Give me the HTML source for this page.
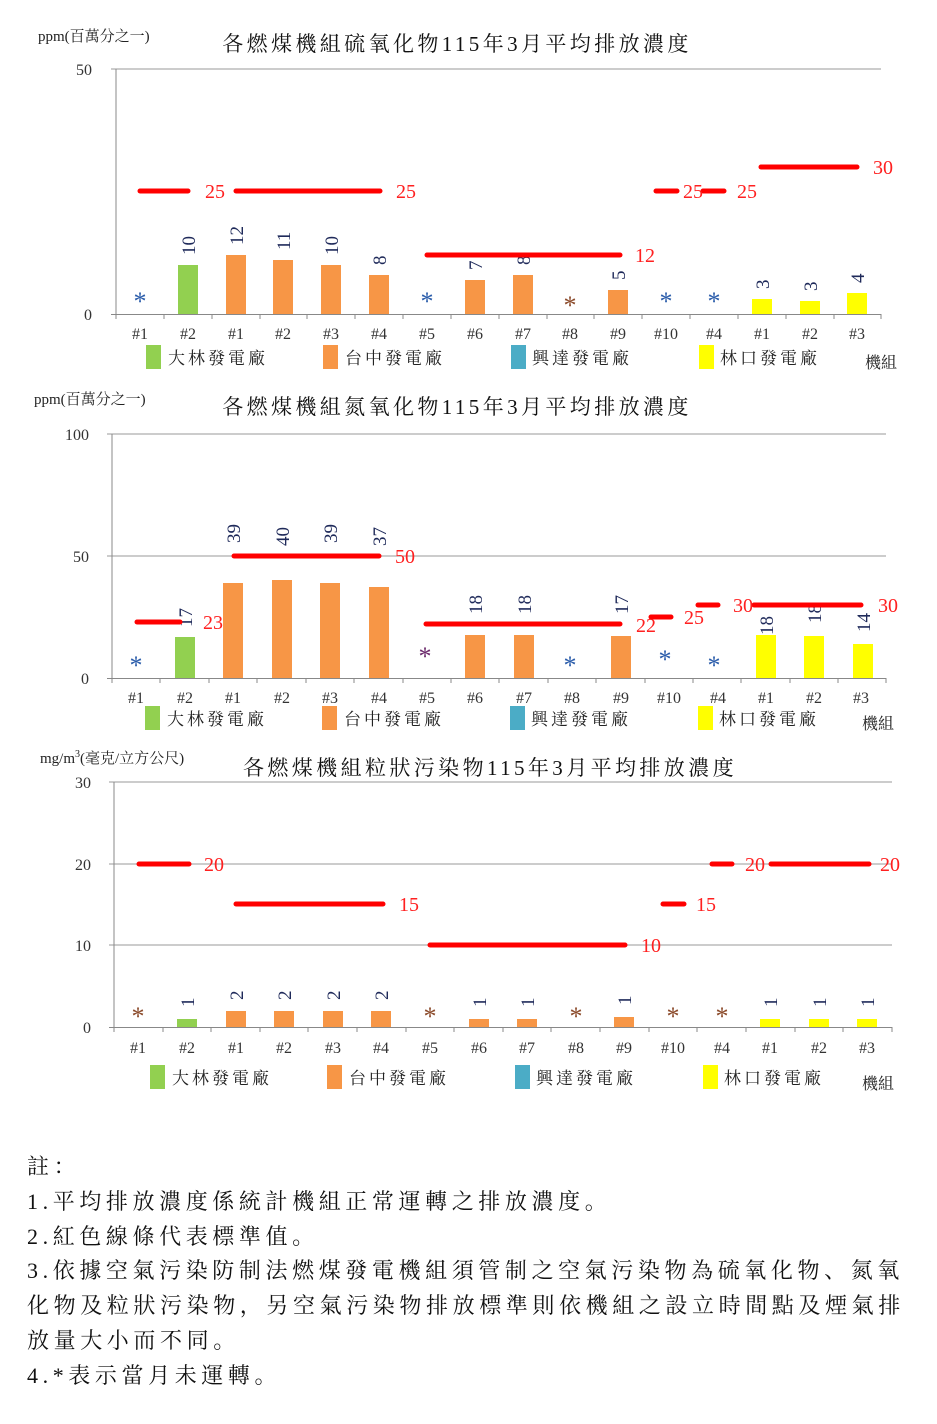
<!DOCTYPE html>
<html><head><meta charset="utf-8"><style>
body{margin:0;background:#fff;width:937px;height:1424px;overflow:hidden}
svg text{font-family:"Liberation Serif","Noto Serif CJK SC",serif}
.v{font-size:19px;fill:#1f2a5a}
.r{font-size:20px;fill:#ff2020}
.t{font-size:16px;fill:#333}
.l{font-size:17px;fill:#222;letter-spacing:3px}
.ti{letter-spacing:3.4px}
.notes{position:absolute;left:27px;top:1150px;font-family:"Liberation Serif","Noto Serif CJK SC",serif;font-size:22px;letter-spacing:4.6px;line-height:34.8px;color:#111;white-space:nowrap}
</style></head><body>
<svg width="937" height="1424" style="position:absolute;left:0;top:0">
<!-- CHART 1 -->
<text x="38" y="41" font-size="15" fill="#222">ppm(百萬分之一)</text>
<text class="ti" x="457" y="51" font-size="21" fill="#111" text-anchor="middle">各燃煤機組硫氧化物115年3月平均排放濃度</text>
<text x="92" y="75" font-size="16" fill="#333" text-anchor="end">50</text>
<text x="92" y="320" font-size="16" fill="#333" text-anchor="end">0</text>
<line x1="111" y1="69" x2="881" y2="69" stroke="#999"/>
<line x1="116" y1="69" x2="116" y2="319" stroke="#888"/>
<line x1="111" y1="314.5" x2="881" y2="314.5" stroke="#888"/>
<g stroke="#888"><line x1="164" y1="314" x2="164" y2="319"/><line x1="212" y1="314" x2="212" y2="319"/><line x1="260" y1="314" x2="260" y2="319"/><line x1="307" y1="314" x2="307" y2="319"/><line x1="355" y1="314" x2="355" y2="319"/><line x1="403" y1="314" x2="403" y2="319"/><line x1="451" y1="314" x2="451" y2="319"/><line x1="499" y1="314" x2="499" y2="319"/><line x1="547" y1="314" x2="547" y2="319"/><line x1="594" y1="314" x2="594" y2="319"/><line x1="642" y1="314" x2="642" y2="319"/><line x1="690" y1="314" x2="690" y2="319"/><line x1="738" y1="314" x2="738" y2="319"/><line x1="786" y1="314" x2="786" y2="319"/><line x1="834" y1="314" x2="834" y2="319"/><line x1="881" y1="314" x2="881" y2="319"/></g>
<rect x="178" y="265" width="20" height="49" fill="#92d050"/>
<rect x="226" y="255" width="20" height="59" fill="#f79646"/>
<rect x="273" y="260" width="20" height="54" fill="#f79646"/>
<rect x="321" y="265" width="20" height="49" fill="#f79646"/>
<rect x="369" y="275" width="20" height="39" fill="#f79646"/>
<rect x="465" y="280" width="20" height="34" fill="#f79646"/>
<rect x="513" y="275" width="20" height="39" fill="#f79646"/>
<rect x="608" y="290" width="20" height="24" fill="#f79646"/>
<rect x="752" y="299" width="20" height="15" fill="#ffff00"/>
<rect x="800" y="301" width="20" height="13" fill="#ffff00"/>
<rect x="847" y="293" width="20" height="21" fill="#ffff00"/>
<g class="v">
<text transform="translate(195,255) rotate(-90)">10</text>
<text transform="translate(243,245) rotate(-90)">12</text>
<text transform="translate(290,250) rotate(-90)">11</text>
<text transform="translate(338,255) rotate(-90)">10</text>
<text transform="translate(386,265) rotate(-90)">8</text>
<text transform="translate(482,270) rotate(-90)">7</text>
<text transform="translate(530,265) rotate(-90)">8</text>
<text transform="translate(625,280) rotate(-90)">5</text>
<text transform="translate(769,289) rotate(-90)">3</text>
<text transform="translate(817,291) rotate(-90)">3</text>
<text transform="translate(864,283) rotate(-90)">4</text>
</g>
<g font-size="26" text-anchor="middle"><text x="140" y="310" fill="#2a5caa">*</text><text x="427" y="310" fill="#2a5caa">*</text><text x="570" y="314" fill="#8b4a2a">*</text><text x="666" y="310" fill="#2a5caa">*</text><text x="714" y="310" fill="#2a5caa">*</text></g>
<g stroke="#ff0000" stroke-width="5" stroke-linecap="round">
<line x1="140" y1="191" x2="188" y2="191"/><line x1="236" y1="191" x2="380" y2="191"/>
<line x1="427" y1="255" x2="620" y2="255"/><line x1="656" y1="191" x2="677" y2="191"/>
<line x1="703" y1="191" x2="724" y2="191"/><line x1="761" y1="167" x2="857" y2="167"/></g>
<g class="r"><text x="205" y="198">25</text><text x="396" y="198">25</text><text x="635" y="262">12</text><text x="683" y="198">25</text><text x="737" y="198">25</text><text x="873" y="174">30</text></g>
<g class="t" text-anchor="middle"><text x="140" y="339">#1</text><text x="188" y="339">#2</text><text x="236" y="339">#1</text><text x="283" y="339">#2</text><text x="331" y="339">#3</text><text x="379" y="339">#4</text><text x="427" y="339">#5</text><text x="475" y="339">#6</text><text x="523" y="339">#7</text><text x="570" y="339">#8</text><text x="618" y="339">#9</text><text x="666" y="339">#10</text><text x="714" y="339">#4</text><text x="762" y="339">#1</text><text x="810" y="339">#2</text><text x="857" y="339">#3</text></g>
<rect x="146" y="345" width="15" height="24" fill="#92d050"/><text class="l" x="168" y="364">大林發電廠</text>
<rect x="323" y="345" width="15" height="24" fill="#f79646"/><text class="l" x="345" y="364">台中發電廠</text>
<rect x="511" y="345" width="15" height="24" fill="#4bacc6"/><text class="l" x="532" y="364">興達發電廠</text>
<rect x="699" y="345" width="15" height="24" fill="#ffff00"/><text class="l" x="720" y="364">林口發電廠</text>
<text x="865" y="368" font-size="16" fill="#222">機組</text>

<!-- CHART 2 -->
<text x="34" y="404" font-size="15" fill="#222">ppm(百萬分之一)</text>
<text class="ti" x="457" y="414" font-size="21" fill="#111" text-anchor="middle">各燃煤機組氮氧化物115年3月平均排放濃度</text>
<text x="89" y="440" font-size="16" fill="#333" text-anchor="end">100</text>
<text x="89" y="562" font-size="16" fill="#333" text-anchor="end">50</text>
<text x="89" y="684" font-size="16" fill="#333" text-anchor="end">0</text>
<line x1="107" y1="434" x2="886" y2="434" stroke="#999"/>
<line x1="107" y1="556" x2="886" y2="556" stroke="#999"/>
<line x1="112" y1="434" x2="112" y2="683" stroke="#888"/>
<line x1="107" y1="678.5" x2="886" y2="678.5" stroke="#888"/>
<g stroke="#888"><line x1="160" y1="678" x2="160" y2="683"/><line x1="209" y1="678" x2="209" y2="683"/><line x1="257" y1="678" x2="257" y2="683"/><line x1="306" y1="678" x2="306" y2="683"/><line x1="354" y1="678" x2="354" y2="683"/><line x1="403" y1="678" x2="403" y2="683"/><line x1="451" y1="678" x2="451" y2="683"/><line x1="499" y1="678" x2="499" y2="683"/><line x1="548" y1="678" x2="548" y2="683"/><line x1="596" y1="678" x2="596" y2="683"/><line x1="645" y1="678" x2="645" y2="683"/><line x1="693" y1="678" x2="693" y2="683"/><line x1="741" y1="678" x2="741" y2="683"/><line x1="790" y1="678" x2="790" y2="683"/><line x1="838" y1="678" x2="838" y2="683"/><line x1="886" y1="678" x2="886" y2="683"/></g>
<rect x="175" y="637" width="20" height="41" fill="#92d050"/>
<rect x="223" y="583" width="20" height="95" fill="#f79646"/>
<rect x="272" y="580" width="20" height="98" fill="#f79646"/>
<rect x="320" y="583" width="20" height="95" fill="#f79646"/>
<rect x="369" y="587" width="20" height="91" fill="#f79646"/>
<rect x="465" y="635" width="20" height="43" fill="#f79646"/>
<rect x="514" y="635" width="20" height="43" fill="#f79646"/>
<rect x="611" y="636" width="20" height="42" fill="#f79646"/>
<rect x="756" y="635" width="20" height="43" fill="#ffff00"/>
<rect x="804" y="636" width="20" height="42" fill="#ffff00"/>
<rect x="853" y="644" width="20" height="34" fill="#ffff00"/>
<g class="v">
<text transform="translate(192,627) rotate(-90)">17</text>
<text transform="translate(240,543) rotate(-90)">39</text>
<text transform="translate(289,546) rotate(-90)">40</text>
<text transform="translate(337,543) rotate(-90)">39</text>
<text transform="translate(386,546) rotate(-90)">37</text>
<text transform="translate(482,614) rotate(-90)">18</text>
<text transform="translate(531,614) rotate(-90)">18</text>
<text transform="translate(628,614) rotate(-90)">17</text>
<text transform="translate(773,635) rotate(-90)">18</text>
<text transform="translate(821,623) rotate(-90)">18</text>
<text transform="translate(870,632) rotate(-90)">14</text>
</g>
<g font-size="26" text-anchor="middle"><text x="136" y="674" fill="#2a5caa">*</text><text x="425" y="665" fill="#6b2a6b">*</text><text x="570" y="674" fill="#2a5caa">*</text><text x="665" y="668" fill="#2a5caa">*</text><text x="714" y="674" fill="#2a5caa">*</text></g>
<g stroke="#ff0000" stroke-width="5" stroke-linecap="round">
<line x1="137" y1="622" x2="180" y2="622"/><line x1="234" y1="556" x2="379" y2="556"/>
<line x1="426" y1="624" x2="620" y2="624"/><line x1="651" y1="617" x2="671" y2="617"/>
<line x1="698" y1="605" x2="718" y2="605"/><line x1="754" y1="605" x2="861" y2="605"/></g>
<g class="r"><text x="203" y="629">23</text><text x="395" y="563">50</text><text x="636" y="632">22</text><text x="684" y="624">25</text><text x="733" y="612">30</text><text x="878" y="612">30</text></g>
<g class="t" text-anchor="middle"><text x="136" y="703">#1</text><text x="185" y="703">#2</text><text x="233" y="703">#1</text><text x="282" y="703">#2</text><text x="330" y="703">#3</text><text x="379" y="703">#4</text><text x="427" y="703">#5</text><text x="475" y="703">#6</text><text x="524" y="703">#7</text><text x="572" y="703">#8</text><text x="621" y="703">#9</text><text x="669" y="703">#10</text><text x="718" y="703">#4</text><text x="766" y="703">#1</text><text x="814" y="703">#2</text><text x="861" y="703">#3</text></g>
<rect x="145" y="706" width="15" height="24" fill="#92d050"/><text class="l" x="167" y="725">大林發電廠</text>
<rect x="322" y="706" width="15" height="24" fill="#f79646"/><text class="l" x="344" y="725">台中發電廠</text>
<rect x="510" y="706" width="15" height="24" fill="#4bacc6"/><text class="l" x="531" y="725">興達發電廠</text>
<rect x="698" y="706" width="15" height="24" fill="#ffff00"/><text class="l" x="719" y="725">林口發電廠</text>
<text x="862" y="729" font-size="16" fill="#222">機組</text>

<!-- CHART 3 -->
<text x="40" y="763" font-size="15" fill="#222">mg/m<tspan font-size="10" dy="-6">3</tspan><tspan dy="6">(毫克/立方公尺)</tspan></text>
<text class="ti" x="490" y="775" font-size="21" fill="#111" text-anchor="middle">各燃煤機組粒狀污染物115年3月平均排放濃度</text>
<text x="91" y="788" font-size="16" fill="#333" text-anchor="end">30</text>
<text x="91" y="870" font-size="16" fill="#333" text-anchor="end">20</text>
<text x="91" y="951" font-size="16" fill="#333" text-anchor="end">10</text>
<text x="91" y="1033" font-size="16" fill="#333" text-anchor="end">0</text>
<line x1="109" y1="782" x2="892" y2="782" stroke="#999"/>
<line x1="109" y1="864" x2="892" y2="864" stroke="#999"/>
<line x1="109" y1="945" x2="892" y2="945" stroke="#999"/>
<line x1="114" y1="782" x2="114" y2="1032" stroke="#888"/>
<line x1="109" y1="1027.5" x2="892" y2="1027.5" stroke="#888"/>
<g stroke="#888"><line x1="163" y1="1027" x2="163" y2="1032"/><line x1="211" y1="1027" x2="211" y2="1032"/><line x1="260" y1="1027" x2="260" y2="1032"/><line x1="308" y1="1027" x2="308" y2="1032"/><line x1="357" y1="1027" x2="357" y2="1032"/><line x1="406" y1="1027" x2="406" y2="1032"/><line x1="454" y1="1027" x2="454" y2="1032"/><line x1="503" y1="1027" x2="503" y2="1032"/><line x1="551" y1="1027" x2="551" y2="1032"/><line x1="600" y1="1027" x2="600" y2="1032"/><line x1="649" y1="1027" x2="649" y2="1032"/><line x1="697" y1="1027" x2="697" y2="1032"/><line x1="746" y1="1027" x2="746" y2="1032"/><line x1="795" y1="1027" x2="795" y2="1032"/><line x1="843" y1="1027" x2="843" y2="1032"/><line x1="892" y1="1027" x2="892" y2="1032"/></g>
<rect x="177" y="1019" width="20" height="8" fill="#92d050"/>
<rect x="226" y="1011" width="20" height="16" fill="#f79646"/>
<rect x="274" y="1011" width="20" height="16" fill="#f79646"/>
<rect x="323" y="1011" width="20" height="16" fill="#f79646"/>
<rect x="371" y="1011" width="20" height="16" fill="#f79646"/>
<rect x="469" y="1019" width="20" height="8" fill="#f79646"/>
<rect x="517" y="1019" width="20" height="8" fill="#f79646"/>
<rect x="614" y="1017" width="20" height="10" fill="#f79646"/>
<rect x="760" y="1019" width="20" height="8" fill="#ffff00"/>
<rect x="809" y="1019" width="20" height="8" fill="#ffff00"/>
<rect x="857" y="1019" width="20" height="8" fill="#ffff00"/>
<g class="v">
<text transform="translate(194,1007) rotate(-90)">1</text>
<text transform="translate(243,1000) rotate(-90)">2</text>
<text transform="translate(291,1000) rotate(-90)">2</text>
<text transform="translate(340,1000) rotate(-90)">2</text>
<text transform="translate(388,1000) rotate(-90)">2</text>
<text transform="translate(486,1007) rotate(-90)">1</text>
<text transform="translate(534,1007) rotate(-90)">1</text>
<text transform="translate(631,1005) rotate(-90)">1</text>
<text transform="translate(777,1007) rotate(-90)">1</text>
<text transform="translate(826,1007) rotate(-90)">1</text>
<text transform="translate(874,1007) rotate(-90)">1</text>
</g>
<g font-size="26" text-anchor="middle" fill="#8b4a2a"><text x="138" y="1025">*</text><text x="430" y="1025">*</text><text x="576" y="1025">*</text><text x="673" y="1025">*</text><text x="722" y="1025">*</text></g>
<g stroke="#ff0000" stroke-width="5" stroke-linecap="round">
<line x1="139" y1="864" x2="189" y2="864"/><line x1="236" y1="904" x2="383" y2="904"/>
<line x1="430" y1="945" x2="625" y2="945"/><line x1="663" y1="904" x2="684" y2="904"/>
<line x1="712" y1="864" x2="732" y2="864"/><line x1="771" y1="864" x2="869" y2="864"/></g>
<g class="r"><text x="204" y="871">20</text><text x="399" y="911">15</text><text x="641" y="952">10</text><text x="696" y="911">15</text><text x="745" y="871">20</text><text x="880" y="871">20</text></g>
<g class="t" text-anchor="middle"><text x="138" y="1053">#1</text><text x="187" y="1053">#2</text><text x="236" y="1053">#1</text><text x="284" y="1053">#2</text><text x="333" y="1053">#3</text><text x="381" y="1053">#4</text><text x="430" y="1053">#5</text><text x="479" y="1053">#6</text><text x="527" y="1053">#7</text><text x="576" y="1053">#8</text><text x="624" y="1053">#9</text><text x="673" y="1053">#10</text><text x="722" y="1053">#4</text><text x="770" y="1053">#1</text><text x="819" y="1053">#2</text><text x="867" y="1053">#3</text></g>
<rect x="150" y="1065" width="15" height="24" fill="#92d050"/><text class="l" x="172" y="1084">大林發電廠</text>
<rect x="327" y="1065" width="15" height="24" fill="#f79646"/><text class="l" x="349" y="1084">台中發電廠</text>
<rect x="515" y="1065" width="15" height="24" fill="#4bacc6"/><text class="l" x="536" y="1084">興達發電廠</text>
<rect x="703" y="1065" width="15" height="24" fill="#ffff00"/><text class="l" x="724" y="1084">林口發電廠</text>
<text x="862" y="1089" font-size="16" fill="#222">機組</text>
</svg>
<div class="notes">
<div>註：</div>
<div>1.平均排放濃度係統計機組正常運轉之排放濃度。</div>
<div>2.紅色線條代表標準值。</div>
<div>3.依據空氣污染防制法燃煤發電機組須管制之空氣污染物為硫氧化物、氮氧</div>
<div>化物及粒狀污染物，另空氣污染物排放標準則依機組之設立時間點及煙氣排</div>
<div>放量大小而不同。</div>
<div>4.*表示當月未運轉。</div>
</div>
</body></html>
